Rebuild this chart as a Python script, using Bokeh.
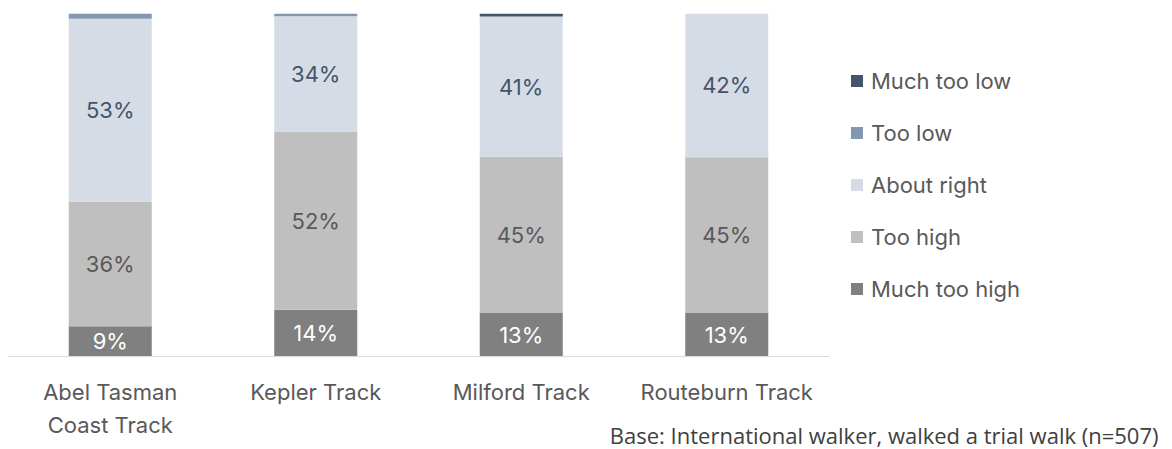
from bokeh.plotting import figure
from bokeh.models import FactorRange, Range1d, Legend, LegendItem, ColumnDataSource, LabelSet, Title
from bokeh.core.properties import value
from bokeh.embed import file_html
from bokeh.resources import INLINE

tracks = ["Abel Tasman\nCoast Track", "Kepler Track", "Milford Track", "Routeburn Track"]
much_too_high = [8.8, 13.6, 12.8, 12.8]
too_high = [36.3, 51.9, 45.4, 45.3]
about_right = [53.4, 33.7, 40.9, 41.9]
too_low = [1.5, 0.8, 0.0, 0.0]
much_too_low = [0.0, 0.0, 0.9, 0.0]
note = "Base: International walker, walked a trial walk (n=507)"

series = ["much_too_high", "too_high", "about_right", "too_low", "much_too_low"]
names = ["Much too high", "Too high", "About right", "Too low", "Much too low"]
colors = ["#808080", "#BFBFBF", "#D6DCE5", "#8497B0", "#44546A"]
label_colors = ["#FFFFFF", "#595959", "#44546A", None, None]

FONT = "Inter"
FS = "22px"

data = dict(x=tracks, much_too_high=much_too_high, too_high=too_high,
            about_right=about_right, too_low=too_low, much_too_low=much_too_low)
src = ColumnDataSource(data)

p = figure(x_range=FactorRange(*tracks, range_padding=0), y_range=Range1d(0, 100),
           frame_width=822, frame_height=343, min_border_left=7, min_border_top=13,
           min_border_bottom=93, min_border_right=343,
           output_backend="svg", toolbar_location=None)
p.outline_line_color = None
p.grid.visible = False
p.yaxis.visible = False
p.xaxis.axis_line_color = "#D9D9D9"
p.xaxis.major_tick_line_color = None
p.xaxis.minor_tick_line_color = None
p.xaxis.major_label_text_font = FONT
p.xaxis.major_label_text_font_size = FS
p.xaxis.major_label_text_color = "#595959"
p.xaxis.major_label_standoff = 16
p.xaxis.major_label_text_line_height = 1.3

rs = p.vbar_stack(series, x="x", width=0.404, color=colors, line_color=None, source=src)

# data labels
for i, s in enumerate(series):
    if label_colors[i] is None:
        continue
    bottoms = []
    for j in range(len(tracks)):
        b = sum(data[series[k]][j] for k in range(i))
        bottoms.append(b)
    vals = data[s]
    lsrc = ColumnDataSource(dict(x=tracks, y=[b + v / 2 for b, v in zip(bottoms, vals)],
                                 t=["%d%%" % round(v) for v in vals]))
    p.add_layout(LabelSet(x="x", y="y", text="t", source=lsrc, text_align="center",
                          text_baseline="middle", text_font=value(FONT),
                          text_font_size=FS, text_color=label_colors[i]))

items = [LegendItem(label=names[i], renderers=[rs[i]]) for i in reversed(range(len(series)))]
legend = Legend(items=items, location="center_left", glyph_width=15, glyph_height=15,
                label_standoff=7, label_text_font=FONT, label_text_font_size=FS,
                label_text_color="#595959", label_height=26, spacing=26,
                padding=20, margin=20, border_line_color=None, background_fill_alpha=0)
p.add_layout(legend, "right")

p.add_layout(Title(text=note, align="right", vertical_align="top", offset=-329, standoff=-44,
                   text_font="Open Sans", text_font_size="22px", text_font_style="normal",
                   text_color="#404040"), "below")

open("out.html", "w").write(file_html(p, INLINE))
